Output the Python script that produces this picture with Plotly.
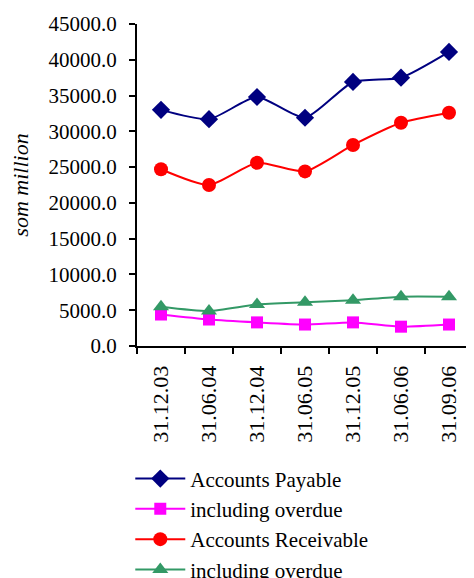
import plotly.graph_objects as go

categories = ["31.12.03", "31.06.04", "31.12.04", "31.06.05", "31.12.05", "31.06.06", "31.09.06"]
accounts_payable = [33000, 31700, 34800, 31900, 36900, 37500, 41100]
payable_overdue = [4400, 3700, 3300, 3000, 3300, 2700, 3000]
accounts_receivable = [24700, 22500, 25600, 24400, 28100, 31200, 32600]
receivable_overdue = [5500, 4900, 5800, 6100, 6400, 6900, 6900]
y_ticks = [0, 5000, 10000, 15000, 20000, 25000, 30000, 35000, 40000, 45000]

FONT = "Liberation Serif"

series = [
    ("Accounts Payable", accounts_payable, "#000080", "diamond", 14),
    ("including overdue", payable_overdue, "#FF00FF", "square", 12),
    ("Accounts Receivable", accounts_receivable, "#FF0000", "circle", 14),
    ("including overdue", receivable_overdue, "#339966", "triangle-up", 14),
]

fig = go.Figure()
for name, vals, color, sym, size in series:
    fig.add_trace(go.Scatter(
        x=categories, y=vals, name=name, mode="lines+markers",
        line=dict(color=color, width=2, shape="spline", smoothing=0.6),
        marker=dict(color=color, symbol=sym, size=size),
    ))

# page body has an 8px margin, so the figure is offset by 8px
fig.update_layout(
    width=466, height=570,
    margin=dict(l=129, r=1, t=16, b=232, autoexpand=False),
    paper_bgcolor="white", plot_bgcolor="white",
    font=dict(family=FONT, size=21, color="black"),
    showlegend=True,
    legend=dict(
        x=-0.02, y=-0.349, xanchor="left", yanchor="top",
        font=dict(family=FONT, size=21, color="black"),
        tracegroupgap=0, itemwidth=50,
        bgcolor="rgba(0,0,0,0)",
    ),
)
fig.update_xaxes(
    type="category", range=[-0.5, 6.5],
    showline=True, linecolor="black", linewidth=2,
    ticks="outside", tickson="boundaries", ticklen=6, tickwidth=2, tickcolor="black",
    tickangle=-90, showgrid=False, zeroline=False,
    ticklabelstandoff=9,
    tickfont=dict(family=FONT, size=22, color="black"),
)
fig.update_yaxes(
    range=[0, 45000], tickvals=y_ticks, tickformat=".1f",
    showline=True, linecolor="black", linewidth=2,
    ticks="outside", ticklen=6, tickwidth=2, tickcolor="black",
    showgrid=False, zeroline=False,
    ticklabelstandoff=8,
    tickfont=dict(family=FONT, size=21, color="black"),
    title=dict(text="som million", standoff=24,
               font=dict(family=FONT, size=22, color="black", style="italic")),
)

fig.write_html("out.html")
